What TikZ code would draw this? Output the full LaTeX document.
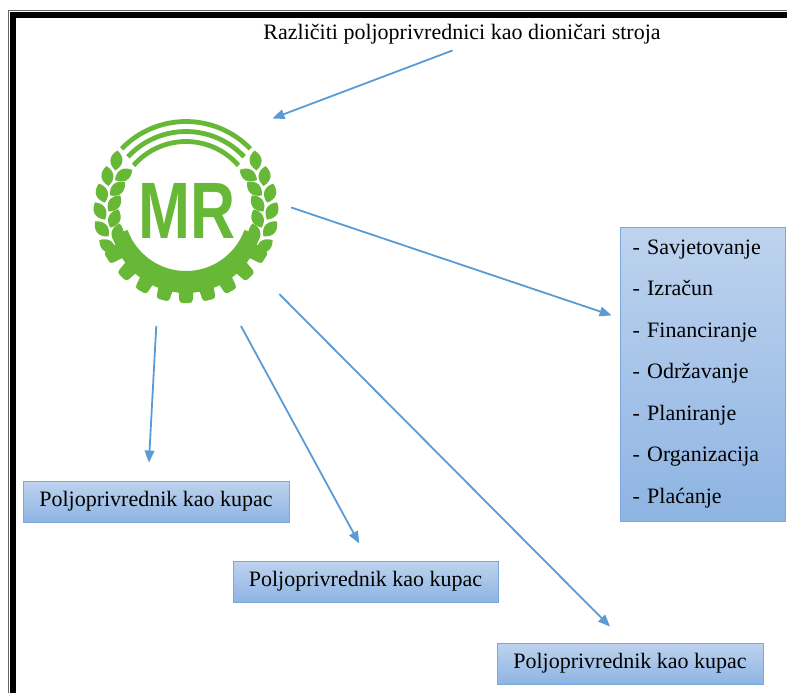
\documentclass[tikz,border=0pt]{standalone}
\usepackage{fontspec}
\setmainfont{Liberation Serif}
\newfontfamily\mrfont{Liberation Sans}
\usetikzlibrary{positioning,arrows}
\definecolor{mrgreen}{RGB}{104,184,56}
\definecolor{arrowblue}{RGB}{91,155,213}
\definecolor{boxtop}{RGB}{190,211,238}
\definecolor{boxbot}{RGB}{142,180,227}
\definecolor{boxedge}{RGB}{124,167,219}
\begin{document}
\begin{tikzpicture}[x=1pt,y=-1pt]
    \tikzstyle{box} = [rectangle, draw=boxedge, top color=boxtop, bottom color=boxbot, text centered, minimum height=41pt, line width=1pt, font=\fontsize{22}{26}\selectfont]
    \tikzstyle{arr} = [-triangle 45, line width=1.8pt, draw=arrowblue]
    \useasboundingbox (0,0) rectangle (787,693);

    % okvir stranice
    \draw[black!60, line width=1pt] (8.5,693) -- (8.5,10.5) -- (787,10.5);
    \draw[line width=5.5pt] (13,693) -- (13,15) -- (787,15);

    \node[anchor=base, inner sep=2pt, font=\fontsize{22}{26}\selectfont] (title) at (462,40) {Različiti poljoprivrednici kao dioničari stroja};

    % znak MR
    \begin{scope}[shift={(186,211)}, x=1pt, y=1pt, fill=mrgreen]
        \foreach \r/\a in {89.5/44, 79.5/43, 69.5/41}
            \draw[mrgreen, line width=4.8pt] (\a:\r) arc[start angle=\a, end angle=180-\a, radius=\r];
        \foreach \t in {144,156,168,180,192,204} {
            \fill[shift={(\t:86)}, rotate=\t-60] (-10,0) .. controls (-4,8) and (4,8) .. (10,0) .. controls (4,-8) and (-4,-8) .. (-10,0) -- cycle;
            \fill[shift={(180-\t:86)}, rotate=240-\t] (-10,0) .. controls (-4,8) and (4,8) .. (10,0) .. controls (4,-8) and (-4,-8) .. (-10,0) -- cycle;
        }
        \foreach \t in {150,162,174,186,198} {
            \fill[shift={(\t:72)}, rotate=\t-120] (-10,0) .. controls (-4,8) and (4,8) .. (10,0) .. controls (4,-8) and (-4,-8) .. (-10,0) -- cycle;
            \fill[shift={(180-\t:72)}, rotate=300-\t] (-10,0) .. controls (-4,8) and (4,8) .. (10,0) .. controls (4,-8) and (-4,-8) .. (-10,0) -- cycle;
        }
        \begin{scope}
            \clip (0,0) -- (198:120) arc[start angle=198, end angle=342, radius=120] -- cycle;
            \fill[even odd rule] (0,-6) circle (76) (0,2) circle (62);
            \foreach \g in {211,225.75,...,329}
                \fill[rotate=\g, rounded corners=3pt] (72,-8) -- (92,-6.5) -- (92,6.5) -- (72,8) -- cycle;
        \end{scope}
    \end{scope}
    \node[circle, minimum size=190pt, inner sep=0pt, text=mrgreen, font=\mrfont\bfseries\fontsize{80}{80}\selectfont] (mr) at (187,211) {\scalebox{0.78}[1]{MR}};

    \node[box, align=left, text width=140pt, minimum width=165pt, minimum height=294pt, font=\fontsize{22}{41.5}\selectfont] (services) at (702.5,374) {- Savjetovanje\\- Izračun\\- Financiranje\\- Održavanje\\- Planiranje\\- Organizacija\\- Plaćanje};

    \node[box, minimum width=266pt] (buyerA) at (156,501.5) {Poljoprivrednik kao kupac};
    \node[box, minimum width=265pt, below=38pt of buyerA, xshift=209.5pt] (buyerB) {Poljoprivrednik kao kupac};
    \node[box, minimum width=266pt, below=40pt of buyerB, xshift=264.5pt] (buyerC) {Poljoprivrednik kao kupac};

    \draw[arr, shorten <=10pt, shorten >=36pt] (title.south) -- (mr.57);
    \draw[arr, shorten <=9.7pt, shorten >=8.4pt] (mr.4) -- (services.146);
    \draw[arr, shorten <=24.5pt, shorten >=18pt] (mr.252) -- (buyerA.111);
    \draw[arr, shorten <=32pt, shorten >=19.4pt] (mr.294) -- (buyerB.82);
    \draw[arr, shorten <=29pt, shorten >=22.6pt] (mr.319) -- (buyerC.101);
\end{tikzpicture}
\end{document}
